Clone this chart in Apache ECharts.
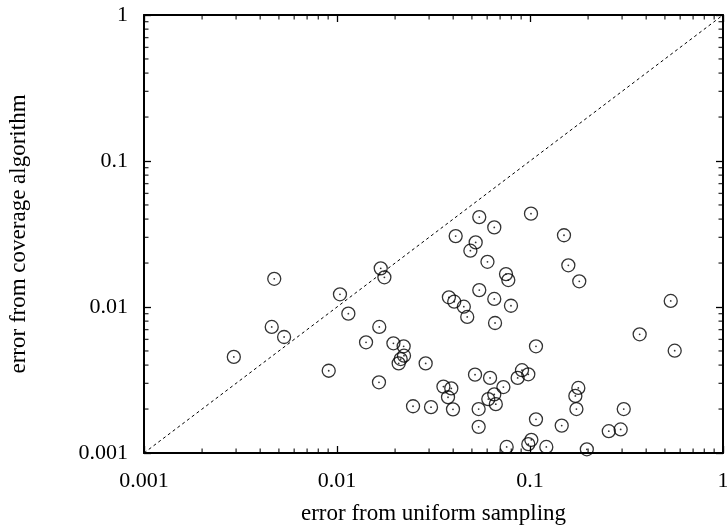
<!DOCTYPE html>
<html>
<head>
<meta charset="utf-8">
<script src="https://cdn.jsdelivr.net/npm/echarts@6/dist/echarts.min.js"></script>
<style>html,body{margin:0;padding:0;background:#fff;}#c{width:727px;height:527px;}</style>
</head>
<body>
<div id="c"></div>
<script>
// ---- data ----
const uniformErr = [0.00292,0.00473,0.00459,0.00532,0.00906,0.01036,0.01145,0.01685,0.0176,0.01656,
  0.01414,0.0165,0.0196,0.02215,0.02224,0.02138,0.02087,0.0288,0.02477,0.0307,
  0.0356,0.0412,0.0523,0.0491,0.0602,0.0751,0.0772,0.0546,0.0653,0.0797,
  0.0659,0.0380,0.0405,0.0454,0.0473,0.150,0.158,0.180,0.536,0.370,
  0.562,0.1074,0.0519,0.0621,0.0909,0.0980,0.0863,0.0728,0.0391,0.0376,
  0.0399,0.0653,0.0608,0.0665,0.0542,0.0542,0.1074,0.0757,0.1016,0.0980,
  0.1215,0.146,0.197,0.178,0.1718,0.174,0.306,0.256,0.295,0.0546,
  0.0653,0.1012];
const coverageErr = [0.00455,0.0156,0.0073,0.00623,0.00366,0.01222,0.0090,0.0184,0.01597,0.0073,
  0.00573,0.00305,0.00564,0.00538,0.00464,0.0044,0.00411,0.00411,0.00209,0.00206,
  0.00285,0.0306,0.0277,0.0243,0.0204,0.0168,0.0153,0.01306,0.01135,0.0102,
  0.00777,0.01165,0.01087,0.01005,0.00855,0.0310,0.0193,0.0150,0.0110,0.0065,
  0.00502,0.00538,0.00344,0.00327,0.00369,0.00346,0.00327,0.00283,0.00277,0.00241,
  0.00199,0.00252,0.00234,0.00216,0.00200,0.00151,0.00170,0.00110,0.00123,0.00115,
  0.00110,0.00154,0.00106,0.00279,0.00246,0.00200,0.00200,0.00141,0.00145,0.0413,
  0.0351,0.0436];
const diagonal = [[0.001,0.001],[1,1]];
const majorTicks = [0.001, 0.01, 0.1, 1];
const tickLabels = ['0.001', '0.01', '0.1', '1'];
const minorMultipliers = [2,3,4,5,6,7,8,9];
const xTitle = 'error from uniform sampling';
const yTitle = 'error from coverage algorithm';

// ---- build ----
const points = uniformErr.map((x, i) => [x, coverageErr[i]]);
const minorVals = [];
majorTicks.slice(0, -1).forEach(d => minorMultipliers.forEach(m => minorVals.push(+(d * m).toPrecision(6))));
const lo = majorTicks[0], hi = majorTicks[majorTicks.length - 1];

const FONT = 'Liberation Serif';
const FS = 22;
const TFS = 23;
const lineStyle = { color: '#000', width: 2 };

function fmt(v) {
  let best = 0, bd = Infinity;
  majorTicks.forEach((t, i) => { const d = Math.abs(Math.log10(v) - Math.log10(t)); if (d < bd) { bd = d; best = i; } });
  return tickLabels[best];
}

function logAxis(pos, labels, extra) {
  return Object.assign({
    type: 'log', logBase: 10, min: lo, max: hi, position: pos,
    axisLine: { show: true, onZero: false, lineStyle },
    axisTick: { show: true, inside: true, length: 7, lineStyle: { color: '#000', width: 1.3 } },
    axisLabel: { show: labels, fontFamily: FONT, fontSize: FS, color: '#000', formatter: fmt, margin: 17 },
    splitLine: { show: false },
    minorTick: { show: false }
  }, extra || {});
}
function tickSeries(data, size, offset) {
  return {
    type: 'scatter', xAxisIndex: 0, yAxisIndex: 0, data, symbol: 'rect',
    symbolSize: size, symbolOffset: offset, clip: false, silent: true,
    itemStyle: { color: '#000' }, z: 4
  };
}

const chart = echarts.init(document.getElementById('c'), null, { renderer: 'canvas' });
chart.setOption({
  backgroundColor: '#fff',
  animation: false,
  grid: { left: 144, right: 4, top: 15, bottom: 74, containLabel: false, outerBoundsMode: 'none' },
  xAxis: [
    logAxis('bottom', true, {
      name: xTitle, nameLocation: 'middle', nameGap: 49,
      nameTextStyle: { fontFamily: FONT, fontSize: TFS, color: '#000' }
    }),
    logAxis('top', false)
  ],
  yAxis: [
    logAxis('left', true, {
      name: yTitle, nameLocation: 'middle', nameGap: 114, nameRotate: 90,
      nameTextStyle: { fontFamily: FONT, fontSize: TFS, color: '#000' },
      axisLabel: { show: true, fontFamily: FONT, fontSize: FS, color: '#000', formatter: fmt, margin: 16 }
    }),
    logAxis('right', false)
  ],
  series: [
    {
      type: 'line', xAxisIndex: 0, yAxisIndex: 0, data: diagonal, symbol: 'none',
      lineStyle: { color: '#000', width: 1, type: [3, 3] }, silent: true, z: 1
    },
    {
      type: 'scatter', xAxisIndex: 0, yAxisIndex: 0, data: points, symbol: 'circle', symbolSize: 13,
      itemStyle: { color: 'rgba(0,0,0,0)', borderColor: '#000', borderWidth: 1.3 }, z: 2
    },
    {
      type: 'scatter', xAxisIndex: 0, yAxisIndex: 0, data: points, symbol: 'circle', symbolSize: 1.8,
      itemStyle: { color: '#000' }, z: 3
    },
    tickSeries(minorVals.map(v => [v, lo]), [1.3, 4.5], [0, -2.25]),
    tickSeries(minorVals.map(v => [v, hi]), [1.3, 4.5], [0, 2.25]),
    tickSeries(minorVals.map(v => [lo, v]), [4.5, 1.3], [2.25, 0]),
    tickSeries(minorVals.map(v => [hi, v]), [4.5, 1.3], [-2.25, 0])
  ]
});
</script>
</body>
</html>
